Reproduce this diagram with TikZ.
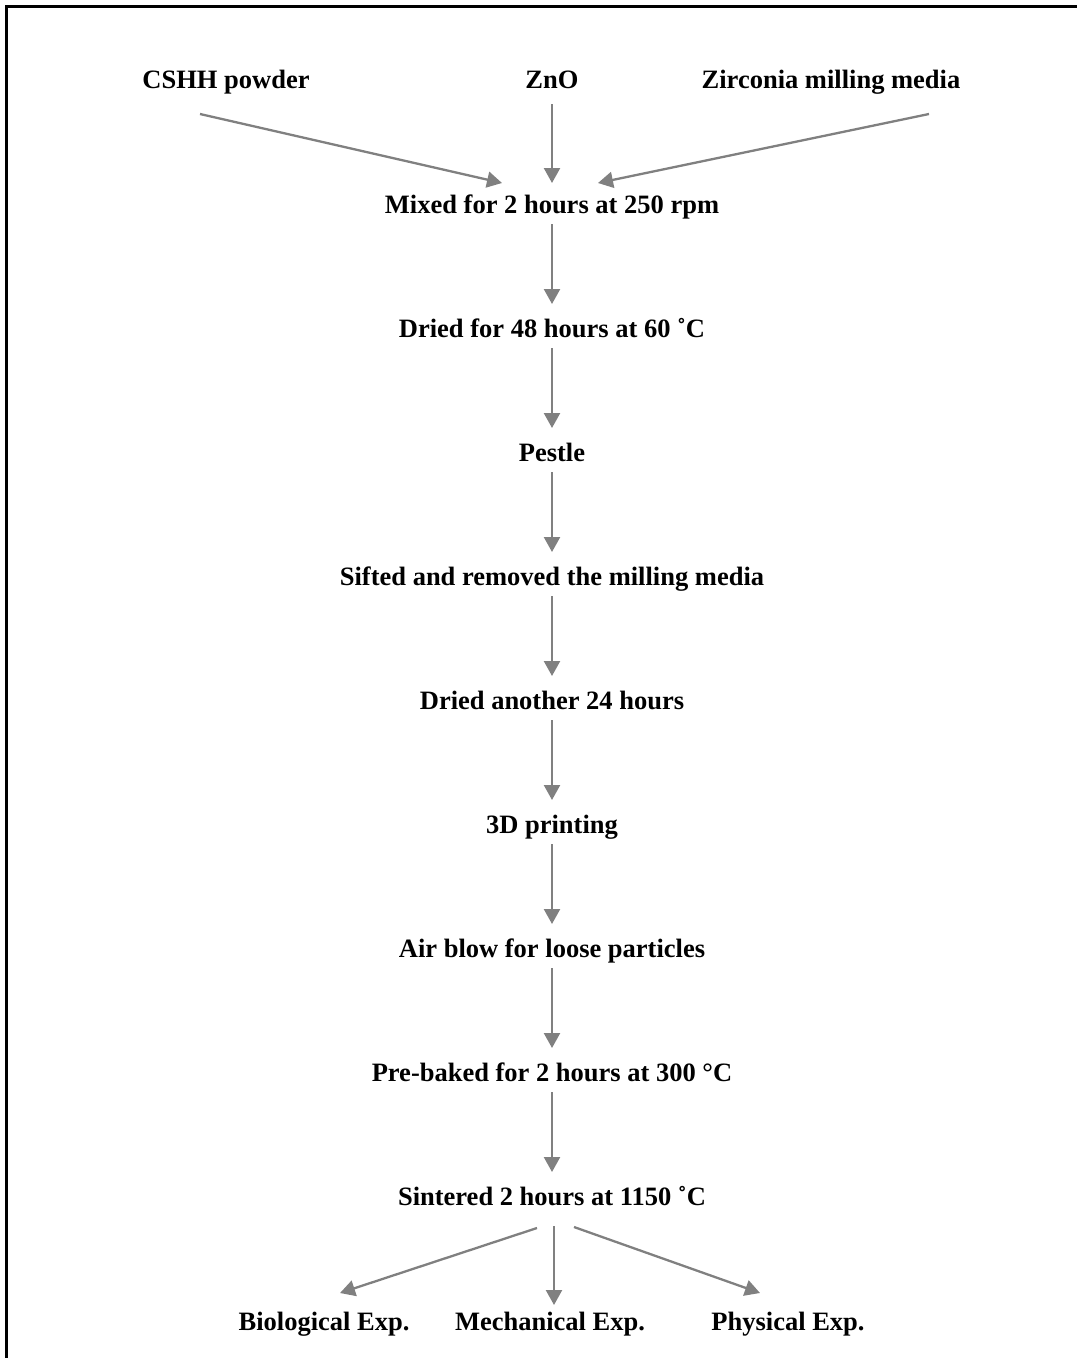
\documentclass[tikz,border=0pt]{standalone}
\usepackage{fontspec}
\setmainfont{Liberation Serif}
\usetikzlibrary{arrows.meta}
\definecolor{arrowgray}{RGB}{128,128,128}
\tikzset{
  lbl/.style={font=\fontsize{26.5}{30}\selectfont\bfseries, inner sep=0pt, anchor=base},
  flow/.style={draw=arrowgray, line width=2.3pt, -{Triangle[length=15pt,width=16pt]}},
  frameline/.style={draw=black, line width=3pt}
}
\begin{document}
\begin{tikzpicture}[x=1pt,y=-1pt]
\useasboundingbox (0,0) rectangle (1077,1358);
\draw[frameline] (6.5,1358) -- (6.5,6.5) -- (1077,6.5);

\node[lbl] (cshh) at (226,88) {CSHH powder};
\node[lbl] (zno)  at (552,88) {ZnO};
\node[lbl] (zir)  at (831,88) {Zirconia milling media};
\node[lbl] (mix)  at (552,213) {Mixed for 2 hours at 250 rpm};
\node[lbl] (dry1) at (552,337) {Dried for 48 hours at 60 ˚C};
\node[lbl] (pest) at (552,461) {Pestle};
\node[lbl] (sift) at (552,585) {Sifted and removed the milling media};
\node[lbl] (dry2) at (552,709) {Dried another 24 hours};
\node[lbl] (print) at (552,833) {3D printing};
\node[lbl] (air)  at (552,957) {Air blow for loose particles};
\node[lbl] (bake) at (552,1081) {Pre-baked for 2 hours at 300 °C};
\node[lbl] (sint) at (552,1205) {Sintered 2 hours at 1150 ˚C};
\node[lbl] (bio)  at (324,1330) {Biological Exp.};
\node[lbl] (mech) at (550,1330) {Mechanical Exp.};
\node[lbl] (phys) at (788,1330) {Physical Exp.};

\draw[flow] ([shift={(-26,26)}]cshh.base) -- ([shift={(-50,-30)}]mix.base);
\draw[flow] ([shift={(0,16)}]zno.base) -- ([shift={(0,-30)}]mix.base);
\draw[flow] ([shift={(98,26)}]zir.base) -- ([shift={(46,-30)}]mix.base);

\foreach \a/\b in {mix/dry1, dry1/pest, pest/sift, sift/dry2, dry2/print, print/air, air/bake, bake/sint}
  \draw[flow] ([shift={(0,11)}]\a.base) -- ([shift={(0,-33)}]\b.base);

\draw[flow] ([shift={(-15,23)}]sint.base) -- ([shift={(16,-37)}]bio.base);
\draw[flow] ([shift={(2,21)}]sint.base) -- ([shift={(4,-25)}]mech.base);
\draw[flow] ([shift={(22,22)}]sint.base) -- ([shift={(-28,-37)}]phys.base);
\end{tikzpicture}
\end{document}
